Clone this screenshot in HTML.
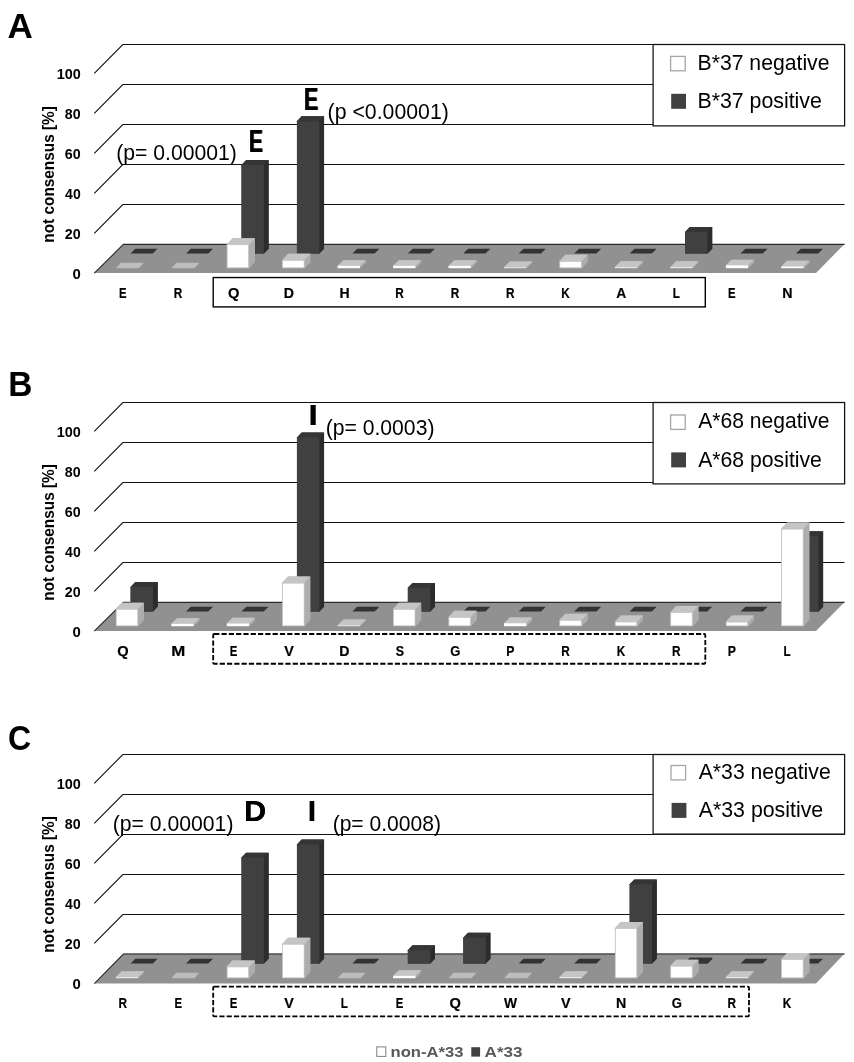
<!DOCTYPE html>
<html><head><meta charset="utf-8"><title>Figure</title>
<style>html,body{margin:0;padding:0;background:#fff}svg{display:block}text{font-family:"Liberation Sans",sans-serif}</style>
</head><body>
<svg width="854" height="1062" viewBox="0 0 854 1062">
<rect width="854" height="1062" fill="#fff"/>
<g transform="translate(0,0)">
<polyline points="94.3,73.30 122.8,44.50 844.5,44.50" fill="none" stroke="#121212" stroke-width="1.1"/>
<polyline points="94.3,113.30 122.8,84.50 844.5,84.50" fill="none" stroke="#121212" stroke-width="1.1"/>
<polyline points="94.3,153.30 122.8,124.50 844.5,124.50" fill="none" stroke="#121212" stroke-width="1.1"/>
<polyline points="94.3,193.30 122.8,164.50 844.5,164.50" fill="none" stroke="#121212" stroke-width="1.1"/>
<polyline points="94.3,233.30 122.8,204.50 844.5,204.50" fill="none" stroke="#121212" stroke-width="1.1"/>
<polygon points="94.3,273.00 123.8,243.90 844.6,243.90 816,273.00" fill="#919191"/>
<polyline points="94.3,273.20 123.4,244.40 844.6,244.40" fill="none" stroke="#2a2a2a" stroke-width="1.1"/>
<text transform="translate(56.63,78.50) scale(1.0159,1)" font-size="14.21" font-weight="bold" fill="#000">100</text>
<text transform="translate(64.87,118.50) scale(1.0012,1)" font-size="14.21" font-weight="bold" fill="#000">80</text>
<text transform="translate(64.80,158.50) scale(1.0060,1)" font-size="14.21" font-weight="bold" fill="#000">60</text>
<text transform="translate(65.09,198.50) scale(0.9869,1)" font-size="14.21" font-weight="bold" fill="#000">40</text>
<text transform="translate(64.80,238.50) scale(1.0060,1)" font-size="14.21" font-weight="bold" fill="#000">20</text>
<text transform="translate(72.40,278.50) scale(1.0516,1)" font-size="14.21" font-weight="bold" fill="#000">0</text>
<text transform="translate(54.0,242.70) rotate(-90) scale(0.9314,1)" font-size="16.5" font-weight="bold">not consensus [%]</text>
<polygon points="130.60,253.60 152.80,253.60 157.60,248.70 135.40,248.70" fill="#333"/>
<polygon points="186.05,253.60 208.25,253.60 213.05,248.70 190.85,248.70" fill="#333"/>
<polygon points="241.50,253.60 263.90,253.60 268.60,248.70 268.60,160.10 246.20,160.10 241.50,165.00" fill="#303030"/>
<polygon points="262.90,253.60 263.90,253.60 268.60,248.70 268.60,160.10 263.90,165.00 262.90,165.00" fill="#2c2c2c"/>
<polygon points="241.50,165.50 241.50,165.00 246.20,160.10 268.60,160.10 263.90,165.00 263.90,165.50" fill="#353535"/>
<rect x="241.50" y="165.00" width="22.40" height="88.60" fill="#404040"/>
<polygon points="296.95,253.60 319.35,253.60 324.05,248.70 324.05,116.35 301.65,116.35 296.95,121.25" fill="#303030"/>
<polygon points="318.35,253.60 319.35,253.60 324.05,248.70 324.05,116.35 319.35,121.25 318.35,121.25" fill="#2c2c2c"/>
<polygon points="296.95,121.75 296.95,121.25 301.65,116.35 324.05,116.35 319.35,121.25 319.35,121.75" fill="#353535"/>
<rect x="296.95" y="121.25" width="22.40" height="132.35" fill="#404040"/>
<polygon points="352.40,253.60 374.60,253.60 379.40,248.70 357.20,248.70" fill="#333"/>
<polygon points="407.85,253.60 430.05,253.60 434.85,248.70 412.65,248.70" fill="#333"/>
<polygon points="463.30,253.60 485.50,253.60 490.30,248.70 468.10,248.70" fill="#333"/>
<polygon points="518.75,253.60 540.95,253.60 545.75,248.70 523.55,248.70" fill="#333"/>
<polygon points="574.20,253.60 596.40,253.60 601.20,248.70 579.00,248.70" fill="#333"/>
<polygon points="629.65,253.60 651.85,253.60 656.65,248.70 634.45,248.70" fill="#333"/>
<polygon points="685.10,253.60 707.50,253.60 712.20,248.70 712.20,227.10 689.80,227.10 685.10,232.00" fill="#303030"/>
<polygon points="706.50,253.60 707.50,253.60 712.20,248.70 712.20,227.10 707.50,232.00 706.50,232.00" fill="#2c2c2c"/>
<polygon points="685.10,232.50 685.10,232.00 689.80,227.10 712.20,227.10 707.50,232.00 707.50,232.50" fill="#353535"/>
<rect x="685.10" y="232.00" width="22.40" height="21.60" fill="#404040"/>
<polygon points="740.55,253.60 762.75,253.60 767.55,248.70 745.35,248.70" fill="#333"/>
<polygon points="796.00,253.60 818.20,253.60 823.00,248.70 800.80,248.70" fill="#333"/>
<polygon points="115.90,268.35 138.90,268.35 143.80,262.85 120.80,262.85" fill="#bdbdbd"/>
<polygon points="171.35,268.35 194.35,268.35 199.25,262.85 176.25,262.85" fill="#bdbdbd"/>
<polygon points="226.80,268.15 249.00,268.15 254.80,261.95 254.80,238.20 232.60,238.20 226.80,244.40" fill="#b8b8b8"/>
<polygon points="248.00,268.15 249.00,268.15 254.80,261.95 254.80,238.20 249.00,244.40 248.00,244.40" fill="#adadad"/>
<polygon points="226.80,244.90 226.80,244.40 232.60,238.20 254.80,238.20 249.00,244.40 249.00,244.90" fill="#c5c5c5"/>
<rect x="227.15" y="244.75" width="21.50" height="23.05" fill="#fff" stroke="#c2c2c2" stroke-width="0.7"/>
<polygon points="282.25,268.15 304.45,268.15 310.25,261.95 310.25,253.85 288.05,253.85 282.25,260.05" fill="#b8b8b8"/>
<polygon points="303.45,268.15 304.45,268.15 310.25,261.95 310.25,253.85 304.45,260.05 303.45,260.05" fill="#adadad"/>
<polygon points="282.25,260.55 282.25,260.05 288.05,253.85 310.25,253.85 304.45,260.05 304.45,260.55" fill="#c5c5c5"/>
<rect x="282.60" y="260.40" width="21.50" height="7.40" fill="#fff" stroke="#c2c2c2" stroke-width="0.7"/>
<polygon points="337.70,268.15 359.90,268.15 365.70,262.45 365.70,260.15 343.50,260.15 337.70,265.85" fill="#b8b8b8"/>
<polygon points="358.90,268.15 359.90,268.15 365.70,262.45 365.70,260.15 359.90,265.85 358.90,265.85" fill="#adadad"/>
<polygon points="337.70,266.35 337.70,265.85 343.50,260.15 365.70,260.15 359.90,265.85 359.90,266.35" fill="#c5c5c5"/>
<rect x="337.70" y="265.85" width="22.20" height="2.30" fill="#fff"/>
<polygon points="393.15,268.15 415.35,268.15 421.15,262.45 421.15,260.15 398.95,260.15 393.15,265.85" fill="#b8b8b8"/>
<polygon points="414.35,268.15 415.35,268.15 421.15,262.45 421.15,260.15 415.35,265.85 414.35,265.85" fill="#adadad"/>
<polygon points="393.15,266.35 393.15,265.85 398.95,260.15 421.15,260.15 415.35,265.85 415.35,266.35" fill="#c5c5c5"/>
<rect x="393.15" y="265.85" width="22.20" height="2.30" fill="#fff"/>
<polygon points="448.60,268.15 470.80,268.15 476.60,262.45 476.60,260.15 454.40,260.15 448.60,265.85" fill="#b8b8b8"/>
<polygon points="469.80,268.15 470.80,268.15 476.60,262.45 476.60,260.15 470.80,265.85 469.80,265.85" fill="#adadad"/>
<polygon points="448.60,266.35 448.60,265.85 454.40,260.15 476.60,260.15 470.80,265.85 470.80,266.35" fill="#c5c5c5"/>
<rect x="448.60" y="265.85" width="22.20" height="2.30" fill="#fff"/>
<polygon points="504.05,268.15 526.25,268.15 532.05,262.45 532.05,261.55 509.85,261.55 504.05,267.25" fill="#b8b8b8"/>
<polygon points="525.25,268.15 526.25,268.15 532.05,262.45 532.05,261.55 526.25,267.25 525.25,267.25" fill="#adadad"/>
<polygon points="504.05,267.75 504.05,267.25 509.85,261.55 532.05,261.55 526.25,267.25 526.25,267.75" fill="#c5c5c5"/>
<rect x="504.05" y="267.25" width="22.20" height="0.90" fill="#e6e6e6"/>
<polygon points="559.50,268.15 581.70,268.15 587.50,261.95 587.50,254.85 565.30,254.85 559.50,261.05" fill="#b8b8b8"/>
<polygon points="580.70,268.15 581.70,268.15 587.50,261.95 587.50,254.85 581.70,261.05 580.70,261.05" fill="#adadad"/>
<polygon points="559.50,261.55 559.50,261.05 565.30,254.85 587.50,254.85 581.70,261.05 581.70,261.55" fill="#c5c5c5"/>
<rect x="559.85" y="261.40" width="21.50" height="6.40" fill="#fff" stroke="#c2c2c2" stroke-width="0.7"/>
<polygon points="614.95,268.15 637.15,268.15 642.95,262.45 642.95,261.35 620.75,261.35 614.95,267.05" fill="#b8b8b8"/>
<polygon points="636.15,268.15 637.15,268.15 642.95,262.45 642.95,261.35 637.15,267.05 636.15,267.05" fill="#adadad"/>
<polygon points="614.95,267.55 614.95,267.05 620.75,261.35 642.95,261.35 637.15,267.05 637.15,267.55" fill="#c5c5c5"/>
<rect x="614.95" y="267.05" width="22.20" height="1.10" fill="#e6e6e6"/>
<polygon points="670.40,268.15 692.60,268.15 698.40,262.45 698.40,261.35 676.20,261.35 670.40,267.05" fill="#b8b8b8"/>
<polygon points="691.60,268.15 692.60,268.15 698.40,262.45 698.40,261.35 692.60,267.05 691.60,267.05" fill="#adadad"/>
<polygon points="670.40,267.55 670.40,267.05 676.20,261.35 698.40,261.35 692.60,267.05 692.60,267.55" fill="#c5c5c5"/>
<rect x="670.40" y="267.05" width="22.20" height="1.10" fill="#e6e6e6"/>
<polygon points="725.85,268.15 748.05,268.15 753.85,262.45 753.85,259.65 731.65,259.65 725.85,265.35" fill="#b8b8b8"/>
<polygon points="747.05,268.15 748.05,268.15 753.85,262.45 753.85,259.65 748.05,265.35 747.05,265.35" fill="#adadad"/>
<polygon points="725.85,265.85 725.85,265.35 731.65,259.65 753.85,259.65 748.05,265.35 748.05,265.85" fill="#c5c5c5"/>
<rect x="725.85" y="265.35" width="22.20" height="2.80" fill="#fff"/>
<polygon points="781.30,268.15 803.50,268.15 809.30,262.45 809.30,260.85 787.10,260.85 781.30,266.55" fill="#b8b8b8"/>
<polygon points="802.50,268.15 803.50,268.15 809.30,262.45 809.30,260.85 803.50,266.55 802.50,266.55" fill="#adadad"/>
<polygon points="781.30,267.05 781.30,266.55 787.10,260.85 809.30,260.85 803.50,266.55 803.50,267.05" fill="#c5c5c5"/>
<rect x="781.30" y="266.55" width="22.20" height="1.60" fill="#fff"/>
<rect x="213.2" y="277.55" width="492.10" height="29.35" fill="none" stroke="#000" stroke-width="1.4"/>
<text transform="translate(119.06,297.90) scale(0.7816,1)" font-size="14.49" font-weight="bold" fill="#000" stroke="#000" stroke-width="0.2">E</text>
<text transform="translate(173.84,297.90) scale(0.8150,1)" font-size="14.49" font-weight="bold" fill="#000" stroke="#000" stroke-width="0.2">R</text>
<text transform="translate(228.03,297.90) scale(1.0127,1)" font-size="14.49" font-weight="bold" fill="#000" stroke="#000" stroke-width="0.2">Q</text>
<text transform="translate(283.81,297.90) scale(0.9761,1)" font-size="14.49" font-weight="bold" fill="#000" stroke="#000" stroke-width="0.2">D</text>
<text transform="translate(339.38,297.90) scale(0.9707,1)" font-size="14.49" font-weight="bold" fill="#000" stroke="#000" stroke-width="0.2">H</text>
<text transform="translate(395.28,297.90) scale(0.8150,1)" font-size="14.49" font-weight="bold" fill="#000" stroke="#000" stroke-width="0.2">R</text>
<text transform="translate(450.64,297.90) scale(0.8150,1)" font-size="14.49" font-weight="bold" fill="#000" stroke="#000" stroke-width="0.2">R</text>
<text transform="translate(506.00,297.90) scale(0.8150,1)" font-size="14.49" font-weight="bold" fill="#000" stroke="#000" stroke-width="0.2">R</text>
<text transform="translate(561.31,297.90) scale(0.8130,1)" font-size="14.49" font-weight="bold" fill="#000" stroke="#000" stroke-width="0.2">K</text>
<text transform="translate(616.24,297.90) scale(0.9578,1)" font-size="14.49" font-weight="bold" fill="#000" stroke="#000" stroke-width="0.2">A</text>
<text transform="translate(672.84,297.90) scale(0.8039,1)" font-size="14.49" font-weight="bold" fill="#000" stroke="#000" stroke-width="0.2">L</text>
<text transform="translate(728.02,297.90) scale(0.7816,1)" font-size="14.49" font-weight="bold" fill="#000" stroke="#000" stroke-width="0.2">E</text>
<text transform="translate(782.19,297.90) scale(0.9824,1)" font-size="14.49" font-weight="bold" fill="#000" stroke="#000" stroke-width="0.2">N</text>
<rect x="653.1" y="44.5" width="191.5" height="81.4" fill="#fff" stroke="#111" stroke-width="1.25"/>
<rect x="670.60" y="56.40" width="14.6" height="14.4" fill="#fff" stroke="#a6a6a6" stroke-width="1.3"/>
<rect x="671.20" y="93.80" width="14.8" height="15" fill="#404040"/>
<text transform="translate(697.50,69.80) scale(0.9824,1)" font-size="21.59" font-weight="normal" fill="#000">B*37 negative</text>
<text transform="translate(697.49,107.90) scale(0.9878,1)" font-size="21.59" font-weight="normal" fill="#000">B*37 positive</text>
<text transform="translate(7.62,38.00) scale(1.0255,1)" font-size="34.20" font-weight="bold" fill="#000">A</text>
<text transform="translate(248.64,151.70) scale(0.6521,1)" font-size="32.03" font-weight="bold" fill="#000" style="filter:drop-shadow(1.5px 0 0 #000)">E</text>
<text transform="translate(303.71,110.20) scale(0.6810,1)" font-size="31.45" font-weight="bold" fill="#000" style="filter:drop-shadow(1.5px 0 0 #000)">E</text>
<text transform="translate(116.23,160.40) scale(0.9820,1)" font-size="21.57" font-weight="normal" fill="#000">(p= 0.00001)</text>
<text transform="translate(327.62,119.30) scale(0.9928,1)" font-size="21.43" font-weight="normal" fill="#000">(p &lt;0.00001)</text>
</g>
<g transform="translate(0,358)">
<polyline points="94.3,73.30 122.8,44.50 844.5,44.50" fill="none" stroke="#121212" stroke-width="1.1"/>
<polyline points="94.3,113.30 122.8,84.50 844.5,84.50" fill="none" stroke="#121212" stroke-width="1.1"/>
<polyline points="94.3,153.30 122.8,124.50 844.5,124.50" fill="none" stroke="#121212" stroke-width="1.1"/>
<polyline points="94.3,193.30 122.8,164.50 844.5,164.50" fill="none" stroke="#121212" stroke-width="1.1"/>
<polyline points="94.3,233.30 122.8,204.50 844.5,204.50" fill="none" stroke="#121212" stroke-width="1.1"/>
<polygon points="94.3,273.00 123.8,243.90 844.6,243.90 816,273.00" fill="#919191"/>
<polyline points="94.3,273.20 123.4,244.40 844.6,244.40" fill="none" stroke="#2a2a2a" stroke-width="1.1"/>
<text transform="translate(56.63,78.50) scale(1.0159,1)" font-size="14.21" font-weight="bold" fill="#000">100</text>
<text transform="translate(64.87,118.50) scale(1.0012,1)" font-size="14.21" font-weight="bold" fill="#000">80</text>
<text transform="translate(64.80,158.50) scale(1.0060,1)" font-size="14.21" font-weight="bold" fill="#000">60</text>
<text transform="translate(65.09,198.50) scale(0.9869,1)" font-size="14.21" font-weight="bold" fill="#000">40</text>
<text transform="translate(64.80,238.50) scale(1.0060,1)" font-size="14.21" font-weight="bold" fill="#000">20</text>
<text transform="translate(72.40,278.50) scale(1.0516,1)" font-size="14.21" font-weight="bold" fill="#000">0</text>
<text transform="translate(54.0,242.70) rotate(-90) scale(0.9314,1)" font-size="16.5" font-weight="bold">not consensus [%]</text>
<polygon points="130.60,253.60 153.00,253.60 157.70,248.70 157.70,224.10 135.30,224.10 130.60,229.00" fill="#303030"/>
<polygon points="152.00,253.60 153.00,253.60 157.70,248.70 157.70,224.10 153.00,229.00 152.00,229.00" fill="#2c2c2c"/>
<polygon points="130.60,229.50 130.60,229.00 135.30,224.10 157.70,224.10 153.00,229.00 153.00,229.50" fill="#353535"/>
<rect x="130.60" y="229.00" width="22.40" height="24.60" fill="#404040"/>
<polygon points="186.05,253.60 208.25,253.60 213.05,248.70 190.85,248.70" fill="#333"/>
<polygon points="241.50,253.60 263.70,253.60 268.50,248.70 246.30,248.70" fill="#333"/>
<polygon points="296.95,253.60 319.35,253.60 324.05,248.70 324.05,74.60 301.65,74.60 296.95,79.50" fill="#303030"/>
<polygon points="318.35,253.60 319.35,253.60 324.05,248.70 324.05,74.60 319.35,79.50 318.35,79.50" fill="#2c2c2c"/>
<polygon points="296.95,80.00 296.95,79.50 301.65,74.60 324.05,74.60 319.35,79.50 319.35,80.00" fill="#353535"/>
<rect x="296.95" y="79.50" width="22.40" height="174.10" fill="#404040"/>
<polygon points="352.40,253.60 374.60,253.60 379.40,248.70 357.20,248.70" fill="#333"/>
<polygon points="407.85,253.60 430.25,253.60 434.95,248.70 434.95,224.90 412.55,224.90 407.85,229.80" fill="#303030"/>
<polygon points="429.25,253.60 430.25,253.60 434.95,248.70 434.95,224.90 430.25,229.80 429.25,229.80" fill="#2c2c2c"/>
<polygon points="407.85,230.30 407.85,229.80 412.55,224.90 434.95,224.90 430.25,229.80 430.25,230.30" fill="#353535"/>
<rect x="407.85" y="229.80" width="22.40" height="23.80" fill="#404040"/>
<polygon points="463.30,253.60 485.50,253.60 490.30,248.70 468.10,248.70" fill="#333"/>
<polygon points="518.75,253.60 540.95,253.60 545.75,248.70 523.55,248.70" fill="#333"/>
<polygon points="574.20,253.60 596.40,253.60 601.20,248.70 579.00,248.70" fill="#333"/>
<polygon points="629.65,253.60 651.85,253.60 656.65,248.70 634.45,248.70" fill="#333"/>
<polygon points="685.10,253.60 707.30,253.60 712.10,248.70 689.90,248.70" fill="#333"/>
<polygon points="740.55,253.60 762.75,253.60 767.55,248.70 745.35,248.70" fill="#333"/>
<polygon points="796.00,253.60 818.40,253.60 823.10,248.70 823.10,173.35 800.70,173.35 796.00,178.25" fill="#303030"/>
<polygon points="817.40,253.60 818.40,253.60 823.10,248.70 823.10,173.35 818.40,178.25 817.40,178.25" fill="#2c2c2c"/>
<polygon points="796.00,178.75 796.00,178.25 800.70,173.35 823.10,173.35 818.40,178.25 818.40,178.75" fill="#353535"/>
<rect x="796.00" y="178.25" width="22.40" height="75.35" fill="#404040"/>
<polygon points="115.90,268.15 138.10,268.15 143.90,261.95 143.90,244.70 121.70,244.70 115.90,250.90" fill="#b8b8b8"/>
<polygon points="137.10,268.15 138.10,268.15 143.90,261.95 143.90,244.70 138.10,250.90 137.10,250.90" fill="#adadad"/>
<polygon points="115.90,251.40 115.90,250.90 121.70,244.70 143.90,244.70 138.10,250.90 138.10,251.40" fill="#c5c5c5"/>
<rect x="116.25" y="251.25" width="21.50" height="16.55" fill="#fff" stroke="#c2c2c2" stroke-width="0.7"/>
<polygon points="171.35,268.15 193.55,268.15 199.35,262.45 199.35,260.15 177.15,260.15 171.35,265.85" fill="#b8b8b8"/>
<polygon points="192.55,268.15 193.55,268.15 199.35,262.45 199.35,260.15 193.55,265.85 192.55,265.85" fill="#adadad"/>
<polygon points="171.35,266.35 171.35,265.85 177.15,260.15 199.35,260.15 193.55,265.85 193.55,266.35" fill="#c5c5c5"/>
<rect x="171.35" y="265.85" width="22.20" height="2.30" fill="#fff"/>
<polygon points="226.80,268.15 249.00,268.15 254.80,262.45 254.80,259.85 232.60,259.85 226.80,265.55" fill="#b8b8b8"/>
<polygon points="248.00,268.15 249.00,268.15 254.80,262.45 254.80,259.85 249.00,265.55 248.00,265.55" fill="#adadad"/>
<polygon points="226.80,266.05 226.80,265.55 232.60,259.85 254.80,259.85 249.00,265.55 249.00,266.05" fill="#c5c5c5"/>
<rect x="226.80" y="265.55" width="22.20" height="2.60" fill="#fff"/>
<polygon points="282.25,268.15 304.45,268.15 310.25,261.95 310.25,218.60 288.05,218.60 282.25,224.80" fill="#b8b8b8"/>
<polygon points="303.45,268.15 304.45,268.15 310.25,261.95 310.25,218.60 304.45,224.80 303.45,224.80" fill="#adadad"/>
<polygon points="282.25,225.30 282.25,224.80 288.05,218.60 310.25,218.60 304.45,224.80 304.45,225.30" fill="#c5c5c5"/>
<rect x="282.60" y="225.15" width="21.50" height="42.65" fill="#fff" stroke="#c2c2c2" stroke-width="0.7"/>
<polygon points="337.70,268.15 359.90,268.15 365.70,262.45 365.70,261.55 343.50,261.55 337.70,267.25" fill="#b8b8b8"/>
<polygon points="358.90,268.15 359.90,268.15 365.70,262.45 365.70,261.55 359.90,267.25 358.90,267.25" fill="#adadad"/>
<polygon points="337.70,267.75 337.70,267.25 343.50,261.55 365.70,261.55 359.90,267.25 359.90,267.75" fill="#c5c5c5"/>
<rect x="337.70" y="267.25" width="22.20" height="0.90" fill="#e6e6e6"/>
<polygon points="393.15,268.15 415.35,268.15 421.15,261.95 421.15,244.80 398.95,244.80 393.15,251.00" fill="#b8b8b8"/>
<polygon points="414.35,268.15 415.35,268.15 421.15,261.95 421.15,244.80 415.35,251.00 414.35,251.00" fill="#adadad"/>
<polygon points="393.15,251.50 393.15,251.00 398.95,244.80 421.15,244.80 415.35,251.00 415.35,251.50" fill="#c5c5c5"/>
<rect x="393.50" y="251.35" width="21.50" height="16.45" fill="#fff" stroke="#c2c2c2" stroke-width="0.7"/>
<polygon points="448.60,268.15 470.80,268.15 476.60,261.95 476.60,252.80 454.40,252.80 448.60,259.00" fill="#b8b8b8"/>
<polygon points="469.80,268.15 470.80,268.15 476.60,261.95 476.60,252.80 470.80,259.00 469.80,259.00" fill="#adadad"/>
<polygon points="448.60,259.50 448.60,259.00 454.40,252.80 476.60,252.80 470.80,259.00 470.80,259.50" fill="#c5c5c5"/>
<rect x="448.95" y="259.35" width="21.50" height="8.45" fill="#fff" stroke="#c2c2c2" stroke-width="0.7"/>
<polygon points="504.05,268.15 526.25,268.15 532.05,262.45 532.05,259.55 509.85,259.55 504.05,265.25" fill="#b8b8b8"/>
<polygon points="525.25,268.15 526.25,268.15 532.05,262.45 532.05,259.55 526.25,265.25 525.25,265.25" fill="#adadad"/>
<polygon points="504.05,265.75 504.05,265.25 509.85,259.55 532.05,259.55 526.25,265.25 526.25,265.75" fill="#c5c5c5"/>
<rect x="504.05" y="265.25" width="22.20" height="2.90" fill="#fff"/>
<polygon points="559.50,268.15 581.70,268.15 587.50,261.95 587.50,255.85 565.30,255.85 559.50,262.05" fill="#b8b8b8"/>
<polygon points="580.70,268.15 581.70,268.15 587.50,261.95 587.50,255.85 581.70,262.05 580.70,262.05" fill="#adadad"/>
<polygon points="559.50,262.55 559.50,262.05 565.30,255.85 587.50,255.85 581.70,262.05 581.70,262.55" fill="#c5c5c5"/>
<rect x="559.85" y="262.40" width="21.50" height="5.40" fill="#fff" stroke="#c2c2c2" stroke-width="0.7"/>
<polygon points="614.95,268.15 637.15,268.15 642.95,261.95 642.95,257.45 620.75,257.45 614.95,263.65" fill="#b8b8b8"/>
<polygon points="636.15,268.15 637.15,268.15 642.95,261.95 642.95,257.45 637.15,263.65 636.15,263.65" fill="#adadad"/>
<polygon points="614.95,264.15 614.95,263.65 620.75,257.45 642.95,257.45 637.15,263.65 637.15,264.15" fill="#c5c5c5"/>
<rect x="615.30" y="264.00" width="21.50" height="3.80" fill="#fff" stroke="#c2c2c2" stroke-width="0.7"/>
<polygon points="670.40,268.15 692.60,268.15 698.40,261.95 698.40,247.95 676.20,247.95 670.40,254.15" fill="#b8b8b8"/>
<polygon points="691.60,268.15 692.60,268.15 698.40,261.95 698.40,247.95 692.60,254.15 691.60,254.15" fill="#adadad"/>
<polygon points="670.40,254.65 670.40,254.15 676.20,247.95 698.40,247.95 692.60,254.15 692.60,254.65" fill="#c5c5c5"/>
<rect x="670.75" y="254.50" width="21.50" height="13.30" fill="#fff" stroke="#c2c2c2" stroke-width="0.7"/>
<polygon points="725.85,268.15 748.05,268.15 753.85,261.95 753.85,257.55 731.65,257.55 725.85,263.75" fill="#b8b8b8"/>
<polygon points="747.05,268.15 748.05,268.15 753.85,261.95 753.85,257.55 748.05,263.75 747.05,263.75" fill="#adadad"/>
<polygon points="725.85,264.25 725.85,263.75 731.65,257.55 753.85,257.55 748.05,263.75 748.05,264.25" fill="#c5c5c5"/>
<rect x="726.20" y="264.10" width="21.50" height="3.70" fill="#fff" stroke="#c2c2c2" stroke-width="0.7"/>
<polygon points="781.30,268.15 803.50,268.15 809.30,261.95 809.30,164.55 787.10,164.55 781.30,170.75" fill="#b8b8b8"/>
<polygon points="802.50,268.15 803.50,268.15 809.30,261.95 809.30,164.55 803.50,170.75 802.50,170.75" fill="#adadad"/>
<polygon points="781.30,171.25 781.30,170.75 787.10,164.55 809.30,164.55 803.50,170.75 803.50,171.25" fill="#c5c5c5"/>
<rect x="781.65" y="171.10" width="21.50" height="96.70" fill="#fff" stroke="#c2c2c2" stroke-width="0.7"/>
<rect x="213.2" y="276.00" width="492.10" height="29.75" fill="none" stroke="#000" stroke-width="1.8" stroke-dasharray="5.2,2.1" rx="1"/>
<text transform="translate(117.31,297.90) scale(1.0127,1)" font-size="14.49" font-weight="bold" fill="#000" stroke="#000" stroke-width="0.2">Q</text>
<text transform="translate(171.36,297.90) scale(1.1631,1)" font-size="14.49" font-weight="bold" fill="#000" stroke="#000" stroke-width="0.2">M</text>
<text transform="translate(229.78,297.90) scale(0.7816,1)" font-size="14.49" font-weight="bold" fill="#000" stroke="#000" stroke-width="0.2">E</text>
<text transform="translate(284.31,297.90) scale(0.9902,1)" font-size="14.49" font-weight="bold" fill="#000" stroke="#000" stroke-width="0.2">V</text>
<text transform="translate(339.17,297.90) scale(0.9761,1)" font-size="14.49" font-weight="bold" fill="#000" stroke="#000" stroke-width="0.2">D</text>
<text transform="translate(395.68,297.90) scale(0.8625,1)" font-size="14.49" font-weight="bold" fill="#000" stroke="#000" stroke-width="0.2">S</text>
<text transform="translate(450.24,297.90) scale(0.8996,1)" font-size="14.49" font-weight="bold" fill="#000" stroke="#000" stroke-width="0.2">G</text>
<text transform="translate(506.22,297.90) scale(0.8474,1)" font-size="14.49" font-weight="bold" fill="#000" stroke="#000" stroke-width="0.2">P</text>
<text transform="translate(561.36,297.90) scale(0.8150,1)" font-size="14.49" font-weight="bold" fill="#000" stroke="#000" stroke-width="0.2">R</text>
<text transform="translate(616.67,297.90) scale(0.8130,1)" font-size="14.49" font-weight="bold" fill="#000" stroke="#000" stroke-width="0.2">K</text>
<text transform="translate(672.08,297.90) scale(0.8150,1)" font-size="14.49" font-weight="bold" fill="#000" stroke="#000" stroke-width="0.2">R</text>
<text transform="translate(727.66,297.90) scale(0.8474,1)" font-size="14.49" font-weight="bold" fill="#000" stroke="#000" stroke-width="0.2">P</text>
<text transform="translate(783.56,297.90) scale(0.8039,1)" font-size="14.49" font-weight="bold" fill="#000" stroke="#000" stroke-width="0.2">L</text>
<rect x="653.1" y="44.5" width="191.5" height="81.4" fill="#fff" stroke="#111" stroke-width="1.25"/>
<rect x="670.60" y="57.00" width="14.6" height="14.4" fill="#fff" stroke="#a6a6a6" stroke-width="1.3"/>
<rect x="671.20" y="94.40" width="14.8" height="15" fill="#404040"/>
<text transform="translate(698.20,70.40) scale(0.9771,1)" font-size="21.59" font-weight="normal" fill="#000">A*68 negative</text>
<text transform="translate(698.20,108.50) scale(0.9822,1)" font-size="21.59" font-weight="normal" fill="#000">A*68 positive</text>
<text transform="translate(8.13,37.70) scale(0.9615,1)" font-size="34.78" font-weight="bold" fill="#000">B</text>
<text transform="translate(308.45,67.00) scale(1.1252,1)" font-size="29.42" font-weight="bold" fill="#000" style="filter:drop-shadow(0.6px 0 0 #000)">I</text>
<text transform="translate(325.63,76.50) scale(0.9816,1)" font-size="21.57" font-weight="normal" fill="#000">(p= 0.0003)</text>
</g>
<g transform="translate(0,710)">
<polyline points="94.3,73.30 122.8,44.50 844.5,44.50" fill="none" stroke="#121212" stroke-width="1.1"/>
<polyline points="94.3,113.30 122.8,84.50 844.5,84.50" fill="none" stroke="#121212" stroke-width="1.1"/>
<polyline points="94.3,153.30 122.8,124.50 844.5,124.50" fill="none" stroke="#121212" stroke-width="1.1"/>
<polyline points="94.3,193.30 122.8,164.50 844.5,164.50" fill="none" stroke="#121212" stroke-width="1.1"/>
<polyline points="94.3,233.30 122.8,204.50 844.5,204.50" fill="none" stroke="#121212" stroke-width="1.1"/>
<polygon points="94.3,273.40 123.8,243.50 844.6,243.50 816,273.40" fill="#919191"/>
<polyline points="94.3,273.60 123.4,244.00 844.6,244.00" fill="none" stroke="#2a2a2a" stroke-width="1.1"/>
<text transform="translate(56.63,78.50) scale(1.0159,1)" font-size="14.21" font-weight="bold" fill="#000">100</text>
<text transform="translate(64.87,118.50) scale(1.0012,1)" font-size="14.21" font-weight="bold" fill="#000">80</text>
<text transform="translate(64.80,158.50) scale(1.0060,1)" font-size="14.21" font-weight="bold" fill="#000">60</text>
<text transform="translate(65.09,198.50) scale(0.9869,1)" font-size="14.21" font-weight="bold" fill="#000">40</text>
<text transform="translate(64.80,238.50) scale(1.0060,1)" font-size="14.21" font-weight="bold" fill="#000">20</text>
<text transform="translate(72.40,278.50) scale(1.0516,1)" font-size="14.21" font-weight="bold" fill="#000">0</text>
<text transform="translate(54.0,242.70) rotate(-90) scale(0.9314,1)" font-size="16.5" font-weight="bold">not consensus [%]</text>
<polygon points="130.60,253.60 152.80,253.60 157.60,248.70 135.40,248.70" fill="#333"/>
<polygon points="186.05,253.60 208.25,253.60 213.05,248.70 190.85,248.70" fill="#333"/>
<polygon points="241.50,253.60 263.90,253.60 268.60,248.70 268.60,142.70 246.20,142.70 241.50,147.60" fill="#303030"/>
<polygon points="262.90,253.60 263.90,253.60 268.60,248.70 268.60,142.70 263.90,147.60 262.90,147.60" fill="#2c2c2c"/>
<polygon points="241.50,148.10 241.50,147.60 246.20,142.70 268.60,142.70 263.90,147.60 263.90,148.10" fill="#353535"/>
<rect x="241.50" y="147.60" width="22.40" height="106.00" fill="#404040"/>
<polygon points="296.95,253.60 319.35,253.60 324.05,248.70 324.05,129.50 301.65,129.50 296.95,134.40" fill="#303030"/>
<polygon points="318.35,253.60 319.35,253.60 324.05,248.70 324.05,129.50 319.35,134.40 318.35,134.40" fill="#2c2c2c"/>
<polygon points="296.95,134.90 296.95,134.40 301.65,129.50 324.05,129.50 319.35,134.40 319.35,134.90" fill="#353535"/>
<rect x="296.95" y="134.40" width="22.40" height="119.20" fill="#404040"/>
<polygon points="352.40,253.60 374.60,253.60 379.40,248.70 357.20,248.70" fill="#333"/>
<polygon points="407.85,253.60 430.25,253.60 434.95,248.70 434.95,235.30 412.55,235.30 407.85,240.20" fill="#303030"/>
<polygon points="429.25,253.60 430.25,253.60 434.95,248.70 434.95,235.30 430.25,240.20 429.25,240.20" fill="#2c2c2c"/>
<polygon points="407.85,240.70 407.85,240.20 412.55,235.30 434.95,235.30 430.25,240.20 430.25,240.70" fill="#353535"/>
<rect x="407.85" y="240.20" width="22.40" height="13.40" fill="#404040"/>
<polygon points="463.30,253.60 485.70,253.60 490.40,248.70 490.40,222.80 468.00,222.80 463.30,227.70" fill="#303030"/>
<polygon points="484.70,253.60 485.70,253.60 490.40,248.70 490.40,222.80 485.70,227.70 484.70,227.70" fill="#2c2c2c"/>
<polygon points="463.30,228.20 463.30,227.70 468.00,222.80 490.40,222.80 485.70,227.70 485.70,228.20" fill="#353535"/>
<rect x="463.30" y="227.70" width="22.40" height="25.90" fill="#404040"/>
<polygon points="518.75,253.60 540.95,253.60 545.75,248.70 523.55,248.70" fill="#333"/>
<polygon points="574.20,253.60 596.40,253.60 601.20,248.70 579.00,248.70" fill="#333"/>
<polygon points="629.65,253.60 652.05,253.60 656.75,248.70 656.75,169.40 634.35,169.40 629.65,174.30" fill="#303030"/>
<polygon points="651.05,253.60 652.05,253.60 656.75,248.70 656.75,169.40 652.05,174.30 651.05,174.30" fill="#2c2c2c"/>
<polygon points="629.65,174.80 629.65,174.30 634.35,169.40 656.75,169.40 652.05,174.30 652.05,174.80" fill="#353535"/>
<rect x="629.65" y="174.30" width="22.40" height="79.30" fill="#404040"/>
<polygon points="685.10,253.60 707.50,253.60 712.20,248.70 712.20,247.70 689.80,247.70 685.10,252.60" fill="#303030"/>
<polygon points="706.50,253.60 707.50,253.60 712.20,248.70 712.20,247.70 707.50,252.60 706.50,252.60" fill="#2c2c2c"/>
<polygon points="685.10,253.10 685.10,252.60 689.80,247.70 712.20,247.70 707.50,252.60 707.50,253.10" fill="#353535"/>
<rect x="685.10" y="252.60" width="22.40" height="1.00" fill="#404040"/>
<polygon points="740.55,253.60 762.75,253.60 767.55,248.70 745.35,248.70" fill="#333"/>
<polygon points="796.00,253.60 818.20,253.60 823.00,248.70 800.80,248.70" fill="#333"/>
<polygon points="115.90,268.15 138.10,268.15 143.90,262.45 143.90,261.35 121.70,261.35 115.90,267.05" fill="#b8b8b8"/>
<polygon points="137.10,268.15 138.10,268.15 143.90,262.45 143.90,261.35 138.10,267.05 137.10,267.05" fill="#adadad"/>
<polygon points="115.90,267.55 115.90,267.05 121.70,261.35 143.90,261.35 138.10,267.05 138.10,267.55" fill="#c5c5c5"/>
<rect x="115.90" y="267.05" width="22.20" height="1.10" fill="#e6e6e6"/>
<polygon points="171.35,268.35 194.35,268.35 199.25,262.85 176.25,262.85" fill="#bdbdbd"/>
<polygon points="226.80,268.15 249.00,268.15 254.80,261.95 254.80,250.40 232.60,250.40 226.80,256.60" fill="#b8b8b8"/>
<polygon points="248.00,268.15 249.00,268.15 254.80,261.95 254.80,250.40 249.00,256.60 248.00,256.60" fill="#adadad"/>
<polygon points="226.80,257.10 226.80,256.60 232.60,250.40 254.80,250.40 249.00,256.60 249.00,257.10" fill="#c5c5c5"/>
<rect x="227.15" y="256.95" width="21.50" height="10.85" fill="#fff" stroke="#c2c2c2" stroke-width="0.7"/>
<polygon points="282.25,268.15 304.45,268.15 310.25,261.95 310.25,227.70 288.05,227.70 282.25,233.90" fill="#b8b8b8"/>
<polygon points="303.45,268.15 304.45,268.15 310.25,261.95 310.25,227.70 304.45,233.90 303.45,233.90" fill="#adadad"/>
<polygon points="282.25,234.40 282.25,233.90 288.05,227.70 310.25,227.70 304.45,233.90 304.45,234.40" fill="#c5c5c5"/>
<rect x="282.60" y="234.25" width="21.50" height="33.55" fill="#fff" stroke="#c2c2c2" stroke-width="0.7"/>
<polygon points="337.70,268.35 360.70,268.35 365.60,262.85 342.60,262.85" fill="#bdbdbd"/>
<polygon points="393.15,268.15 415.35,268.15 421.15,262.45 421.15,260.15 398.95,260.15 393.15,265.85" fill="#b8b8b8"/>
<polygon points="414.35,268.15 415.35,268.15 421.15,262.45 421.15,260.15 415.35,265.85 414.35,265.85" fill="#adadad"/>
<polygon points="393.15,266.35 393.15,265.85 398.95,260.15 421.15,260.15 415.35,265.85 415.35,266.35" fill="#c5c5c5"/>
<rect x="393.15" y="265.85" width="22.20" height="2.30" fill="#fff"/>
<polygon points="448.60,268.35 471.60,268.35 476.50,262.85 453.50,262.85" fill="#bdbdbd"/>
<polygon points="504.05,268.35 527.05,268.35 531.95,262.85 508.95,262.85" fill="#bdbdbd"/>
<polygon points="559.50,268.15 581.70,268.15 587.50,262.45 587.50,261.25 565.30,261.25 559.50,266.95" fill="#b8b8b8"/>
<polygon points="580.70,268.15 581.70,268.15 587.50,262.45 587.50,261.25 581.70,266.95 580.70,266.95" fill="#adadad"/>
<polygon points="559.50,267.45 559.50,266.95 565.30,261.25 587.50,261.25 581.70,266.95 581.70,267.45" fill="#c5c5c5"/>
<rect x="559.50" y="266.95" width="22.20" height="1.20" fill="#e6e6e6"/>
<polygon points="614.95,268.15 637.15,268.15 642.95,261.95 642.95,212.00 620.75,212.00 614.95,218.20" fill="#b8b8b8"/>
<polygon points="636.15,268.15 637.15,268.15 642.95,261.95 642.95,212.00 637.15,218.20 636.15,218.20" fill="#adadad"/>
<polygon points="614.95,218.70 614.95,218.20 620.75,212.00 642.95,212.00 637.15,218.20 637.15,218.70" fill="#c5c5c5"/>
<rect x="615.30" y="218.55" width="21.50" height="49.25" fill="#fff" stroke="#c2c2c2" stroke-width="0.7"/>
<polygon points="670.40,268.15 692.60,268.15 698.40,261.95 698.40,249.65 676.20,249.65 670.40,255.85" fill="#b8b8b8"/>
<polygon points="691.60,268.15 692.60,268.15 698.40,261.95 698.40,249.65 692.60,255.85 691.60,255.85" fill="#adadad"/>
<polygon points="670.40,256.35 670.40,255.85 676.20,249.65 698.40,249.65 692.60,255.85 692.60,256.35" fill="#c5c5c5"/>
<rect x="670.75" y="256.20" width="21.50" height="11.60" fill="#fff" stroke="#c2c2c2" stroke-width="0.7"/>
<polygon points="725.85,268.15 748.05,268.15 753.85,262.45 753.85,261.25 731.65,261.25 725.85,266.95" fill="#b8b8b8"/>
<polygon points="747.05,268.15 748.05,268.15 753.85,262.45 753.85,261.25 748.05,266.95 747.05,266.95" fill="#adadad"/>
<polygon points="725.85,267.45 725.85,266.95 731.65,261.25 753.85,261.25 748.05,266.95 748.05,267.45" fill="#c5c5c5"/>
<rect x="725.85" y="266.95" width="22.20" height="1.20" fill="#e6e6e6"/>
<polygon points="781.30,268.15 803.50,268.15 809.30,261.95 809.30,242.90 787.10,242.90 781.30,249.10" fill="#b8b8b8"/>
<polygon points="802.50,268.15 803.50,268.15 809.30,261.95 809.30,242.90 803.50,249.10 802.50,249.10" fill="#adadad"/>
<polygon points="781.30,249.60 781.30,249.10 787.10,242.90 809.30,242.90 803.50,249.10 803.50,249.60" fill="#c5c5c5"/>
<rect x="781.65" y="249.45" width="21.50" height="18.35" fill="#fff" stroke="#c2c2c2" stroke-width="0.7"/>
<rect x="213.2" y="276.70" width="535.80" height="29.60" fill="none" stroke="#000" stroke-width="1.8" stroke-dasharray="5.2,2.1" rx="1"/>
<text transform="translate(118.48,297.90) scale(0.8150,1)" font-size="14.49" font-weight="bold" fill="#000" stroke="#000" stroke-width="0.2">R</text>
<text transform="translate(174.42,297.90) scale(0.7816,1)" font-size="14.49" font-weight="bold" fill="#000" stroke="#000" stroke-width="0.2">E</text>
<text transform="translate(229.78,297.90) scale(0.7816,1)" font-size="14.49" font-weight="bold" fill="#000" stroke="#000" stroke-width="0.2">E</text>
<text transform="translate(284.31,297.90) scale(0.9902,1)" font-size="14.49" font-weight="bold" fill="#000" stroke="#000" stroke-width="0.2">V</text>
<text transform="translate(340.68,297.90) scale(0.8039,1)" font-size="14.49" font-weight="bold" fill="#000" stroke="#000" stroke-width="0.2">L</text>
<text transform="translate(395.86,297.90) scale(0.7816,1)" font-size="14.49" font-weight="bold" fill="#000" stroke="#000" stroke-width="0.2">E</text>
<text transform="translate(449.47,297.90) scale(1.0127,1)" font-size="14.49" font-weight="bold" fill="#000" stroke="#000" stroke-width="0.2">Q</text>
<text transform="translate(503.97,297.90) scale(0.9565,1)" font-size="14.49" font-weight="bold" fill="#000" stroke="#000" stroke-width="0.2">W</text>
<text transform="translate(561.11,297.90) scale(0.9902,1)" font-size="14.49" font-weight="bold" fill="#000" stroke="#000" stroke-width="0.2">V</text>
<text transform="translate(616.11,297.90) scale(0.9824,1)" font-size="14.49" font-weight="bold" fill="#000" stroke="#000" stroke-width="0.2">N</text>
<text transform="translate(671.68,297.90) scale(0.8996,1)" font-size="14.49" font-weight="bold" fill="#000" stroke="#000" stroke-width="0.2">G</text>
<text transform="translate(727.44,297.90) scale(0.8150,1)" font-size="14.49" font-weight="bold" fill="#000" stroke="#000" stroke-width="0.2">R</text>
<text transform="translate(782.75,297.90) scale(0.8130,1)" font-size="14.49" font-weight="bold" fill="#000" stroke="#000" stroke-width="0.2">K</text>
<rect x="653.1" y="44.5" width="191.5" height="79.6" fill="#fff" stroke="#111" stroke-width="1.25"/>
<rect x="671.00" y="55.50" width="14.6" height="14.4" fill="#fff" stroke="#a6a6a6" stroke-width="1.3"/>
<rect x="671.60" y="92.90" width="14.8" height="15" fill="#404040"/>
<text transform="translate(698.70,68.90) scale(0.9824,1)" font-size="21.59" font-weight="normal" fill="#000">A*33 negative</text>
<text transform="translate(698.70,107.00) scale(0.9886,1)" font-size="21.59" font-weight="normal" fill="#000">A*33 positive</text>
<text transform="translate(8.12,40.00) scale(0.9295,1)" font-size="34.49" font-weight="bold" fill="#000">C</text>
<text transform="translate(243.90,111.30) scale(1.0497,1)" font-size="29.28" font-weight="bold" fill="#000" style="filter:drop-shadow(0.4px 0 0 #000)">D</text>
<text transform="translate(307.83,111.30) scale(1.0365,1)" font-size="29.28" font-weight="bold" fill="#000" style="filter:drop-shadow(0.6px 0 0 #000)">I</text>
<text transform="translate(112.73,120.90) scale(0.9724,1)" font-size="21.79" font-weight="normal" fill="#000">(p= 0.00001)</text>
<text transform="translate(332.64,120.90) scale(0.9674,1)" font-size="21.79" font-weight="normal" fill="#000">(p= 0.0008)</text>
</g>
<rect x="376.8" y="1046.9" width="9" height="9.5" fill="#fff" stroke="#7f7f7f" stroke-width="1"/>
<text transform="translate(390.52,1056.80) scale(1.1259,1)" font-size="14.78" font-weight="bold" fill="#595959">non-A*33</text>
<rect x="471.3" y="1047.2" width="8.8" height="9.4" fill="#404040"/>
<text transform="translate(484.57,1056.80) scale(1.1561,1)" font-size="14.78" font-weight="bold" fill="#595959">A*33</text>
</svg>
</body></html>
